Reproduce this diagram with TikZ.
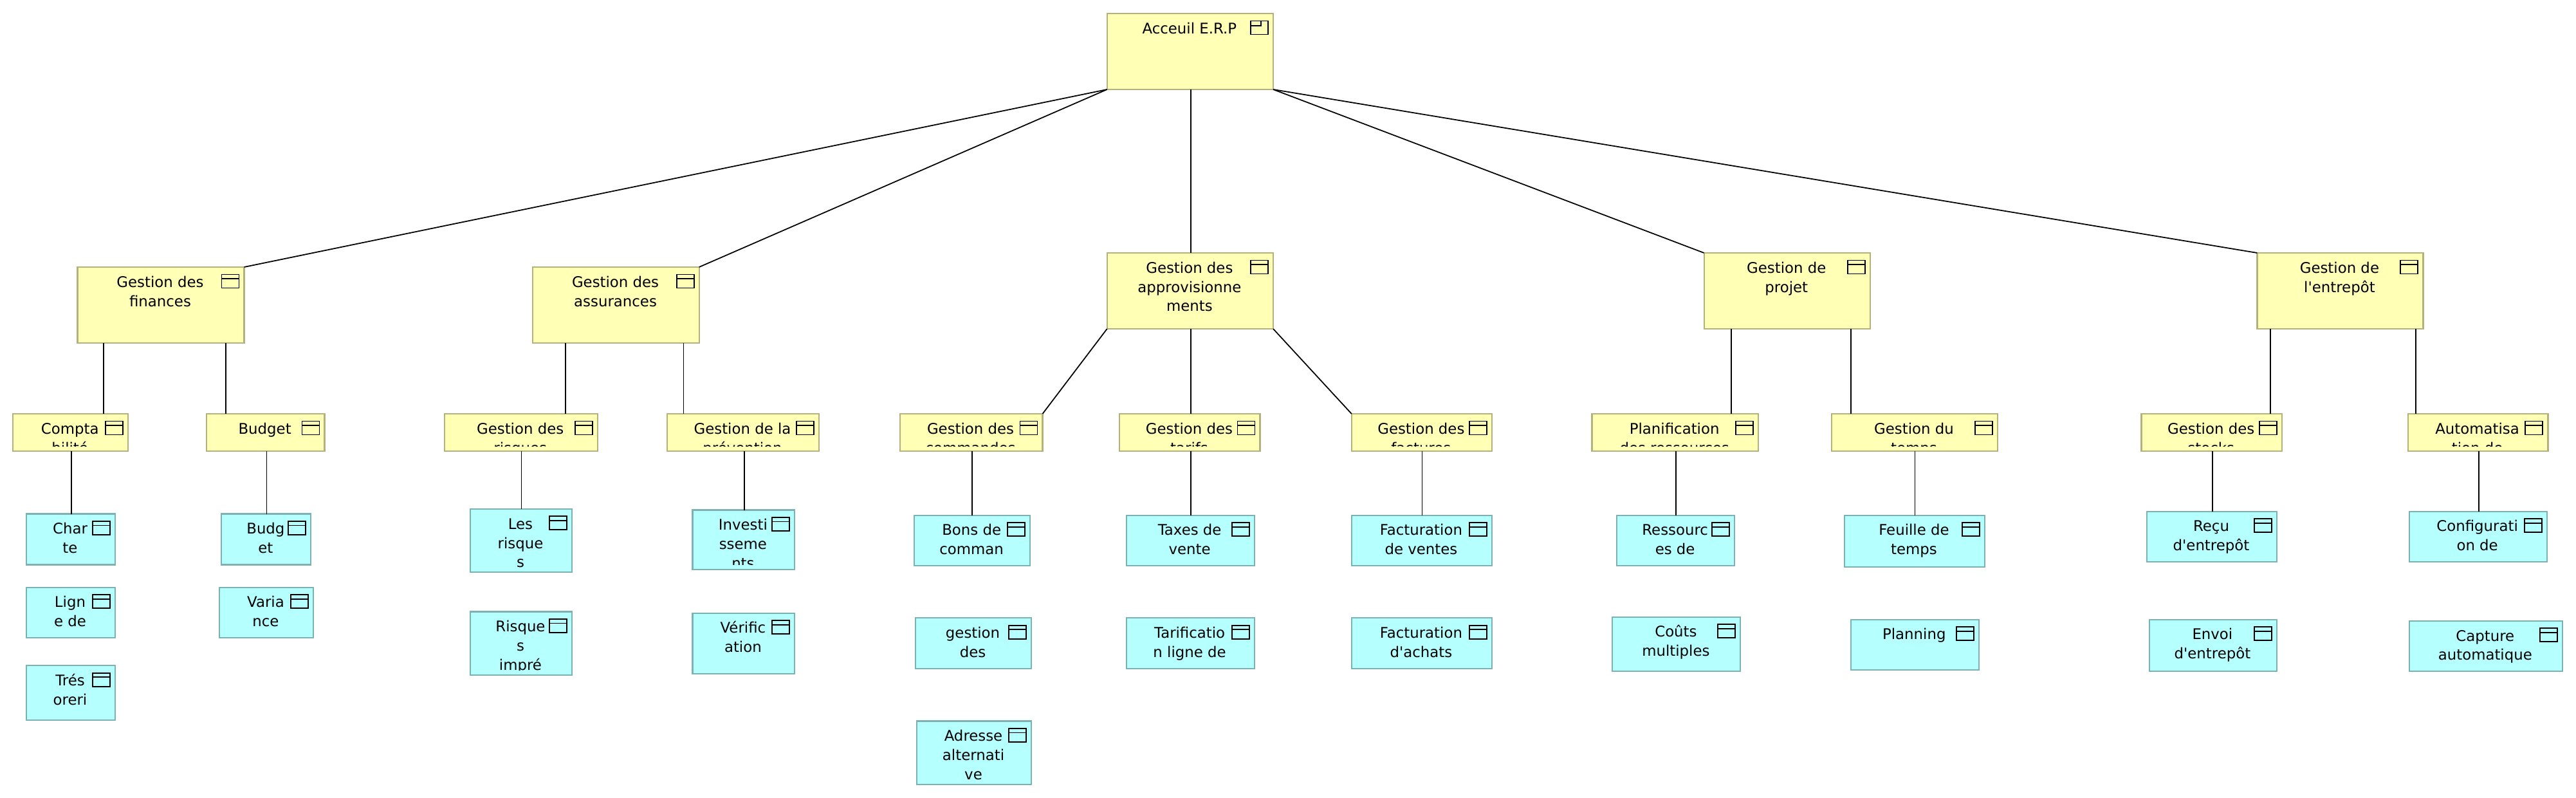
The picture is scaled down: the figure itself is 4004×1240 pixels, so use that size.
\documentclass[tikz,border=0pt]{standalone}
\usepackage{fontspec}
\newfontfamily\boxfont{DejaVu Sans}
\definecolor{bizfill}{RGB}{255,255,181}
\definecolor{bizline}{RGB}{178,178,126}
\definecolor{appfill}{RGB}{181,255,255}
\definecolor{appline}{RGB}{126,178,178}
\tikzset{
	bizbox/.style={fill=bizfill,draw=bizline},
	appbox/.style={fill=appfill,draw=appline},
	boxtext/.style={anchor=north,inner sep=0pt,align=center,font=\boxfont\fontsize{13}{17}\selectfont},
	link/.style={line width=1pt,black},
	iconline/.style={line width=1.1pt,black}
}
\def\archnode[#1](#2)(#3,#4)(#5,#6)#7{
	\node[#1,rectangle,line width=1.2pt,inner sep=0pt,outer sep=0pt,minimum width={(#5-#3)*0.02cm},minimum height={(#6-#4)*0.02cm}] (#2) at ({(#3+#5)/2},{(#4+#6)/2}) {};
	\begin{scope}
		\clip (#3,#4) rectangle (#5,#6-8);
		\node[boxtext] (#2text) at ({(#3+#5)/2-1},#4+10) {\strut #7};
	\end{scope}
}
\def\archbox[#1](#2)(#3,#4)(#5,#6)#7{
	\archnode[#1](#2)(#3,#4)(#5,#6){#7}
	\draw[iconline] ([shift={(-35,11.5)}]#2.north east) rectangle ++(27,21);
	\draw[iconline] ([shift={(-35,18)}]#2.north east) -- ++(27,0);
}
\def\downlink(#1)(#2)#3{\draw[link] (#3,0 |- #1.south) -- (#3,0 |- #2.north);}

\begin{document}
\begin{tikzpicture}[x=0.02cm,y=-0.02cm]
		\useasboundingbox (0,0) rectangle (4004,1240);
		%%%%% ROOT %%%%%
		\archnode[bizbox](accueil)(1720.7,21)(1979,139){Acceuil E.R.P}
		\draw[iconline] ([shift={(-35,11.5)}]accueil.north east) rectangle ++(27,21);
		\draw[iconline] ([shift={(-35,19)}]accueil.north east) -| ([shift={(-19,11.5)}]accueil.north east);
		
		%%%%% MODULES %%%%%
		\archbox[bizbox](finances)(120.5,415)(379.5,533){Gestion des\\finances}
		\archbox[bizbox](assurances)(828.4,415)(1086.7,533){Gestion des\\assurances}
		\archbox[bizbox](appro)(1720.7,393)(1979,511){Gestion des\\approvisionne\\ments}
		\archbox[bizbox](projet)(2648.6,393)(2906.9,511){Gestion de\\projet}
		\archbox[bizbox](entrepot)(3508.4,393)(3766.4,511){Gestion de\\l'entrepôt}
		
		\draw[link] (accueil.south west) -- (finances.north east);
		\draw[link] (accueil.south west) -- (assurances.north east);
		\downlink(accueil)(appro){1851}
		\draw[link] (accueil.south east) -- (projet.north west);
		\draw[link] (accueil.south east) -- (entrepot.north west);
		
		%%%%% SUB MODULES %%%%%
		\archbox[bizbox](compta)(20.4,643)(199,701){Compta\\bilité}
		\archbox[bizbox](budget)(320.8,643)(504.5,701){Budget}
		\archbox[bizbox](risques)(690.7,643)(928.6,701){Gestion des\\risques}
		\archbox[bizbox](prevention)(1037,643)(1273,701){Gestion de la\\prévention}
		\archbox[bizbox](commandes)(1398.6,643)(1620.5,701){Gestion des\\commandes}
		\archbox[bizbox](tarifs)(1740.4,643)(1958.5,701){Gestion des\\tarifs}
		\archbox[bizbox](factures)(2100.8,643)(2318.9,701){Gestion des\\factures}
		\archbox[bizbox](planif)(2474.5,643)(2732.8,701){Planification\\des ressources}
		\archbox[bizbox](temps)(2846.9,643)(3105,701){Gestion du\\temps}
		\archbox[bizbox](stocks)(3328.5,643)(3546.8,701){Gestion des\\stocks}
		\archbox[bizbox](automat)(3742.7,643)(3960.4,701){Automatisa\\tion de}
		
		\downlink(finances)(compta){160.7}
		\downlink(finances)(budget){350.8}
		\downlink(assurances)(risques){878.8}
		\downlink(assurances)(prevention){1062.5}
		\draw[link] (appro.south west) -- (commandes.north east);
		\downlink(appro)(tarifs){1851}
		\draw[link] (appro.south east) -- (factures.north west);
		\downlink(projet)(planif){2690.7}
		\downlink(projet)(temps){2876.9}
		\downlink(entrepot)(stocks){3528.9}
		\downlink(entrepot)(automat){3754.9}
		
		%%%%% LEAVES %%%%%
		\archbox[appbox](charte)(40.8,798.5)(179.2,877.5){Char\\te}
		\archbox[appbox](ligne)(40.8,912.6)(179.2,991.1){Lign\\e de}
		\archbox[appbox](tresor)(40.8,1034.4)(179.2,1118.9){Trés\\oreri}
		\archbox[appbox](budg)(344.4,798.5)(483.4,877.5){Budg\\et}
		\archbox[appbox](varia)(340.6,912.6)(487.3,991.1){Varia\\nce}
		\archbox[appbox](lesrisques)(730.9,790.9)(889,889){Les\\risque\\s}
		\archbox[appbox](impre)(730.9,950.5)(889,1049.2){Risque\\s\\impré}
		\archbox[appbox](investi)(1076.5,792.5)(1235.3,885.2){Investi\\sseme\\nts}
		\archbox[appbox](verif)(1076.5,952.7)(1235.3,1047){Vérific\\ation}
		\archbox[appbox](bons)(1420.9,800.7)(1601.4,879.2){Bons de\\comman}
		\archbox[appbox](gestdes)(1422.8,960.4)(1603.3,1038.8){gestion\\des}
		\archbox[appbox](adresse)(1424.7,1120.5)(1603.3,1219.3){Adresse\\alternati\\ve}
		\archbox[appbox](taxes)(1750.6,800.7)(1949.6,879.2){Taxes de\\vente}
		\archbox[appbox](tarific)(1750.6,960.4)(1949.6,1038.8){Tarificatio\\n ligne de}
		\archbox[appbox](ventes)(2100.8,800.7)(2318.9,879.2){Facturation\\de ventes}
		\archbox[appbox](achats)(2100.8,960.4)(2318.9,1038.8){Facturation\\d'achats}
		\archbox[appbox](ressourc)(2512.8,800.7)(2696.4,879.2){Ressourc\\es de}
		\archbox[appbox](couts)(2506.4,958.7)(2705.4,1043.2){Coûts\\multiples}
		\archbox[appbox](feuille)(2866.7,800.7)(3085.2,880.8){Feuille de\\temps}
		\archbox[appbox](planning)(2876.9,962.6)(3075.6,1041){Planning}
		\archbox[appbox](recu)(3336.8,794.7)(3539.1,873.2){Reçu\\d'entrepôt}
		\archbox[appbox](envoi)(3340.6,962.6)(3539.1,1043.2){Envoi\\d'entrepôt}
		\archbox[appbox](config)(3744.7,794.7)(3958.5,873.2){Configurati\\on de}
		\archbox[appbox](capture)(3744.7,964.8)(3982.9,1043.2){Capture\\automatique}
		
		\downlink(compta)(charte){111}
		\downlink(budget)(budg){414.5}
		\downlink(risques)(lesrisques){810.6}
		\downlink(prevention)(investi){1156.9}
		\downlink(commandes)(bons){1510.8}
		\downlink(tarifs)(taxes){1851}
		\downlink(factures)(ventes){2210.5}
		\downlink(planif)(ressourc){2604.6}
		\downlink(temps)(feuille){2976.4}
		\downlink(stocks)(recu){3438.6}
		\downlink(automat)(config){3852.9}
\end{tikzpicture}
\end{document}
